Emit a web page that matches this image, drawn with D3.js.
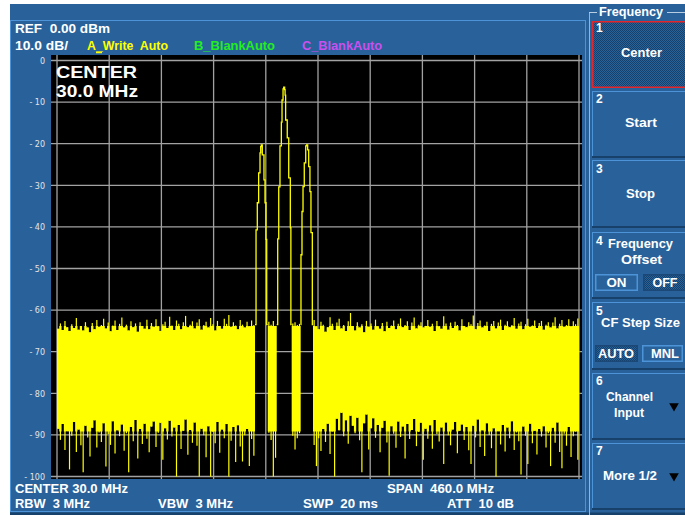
<!DOCTYPE html>
<html><head><meta charset="utf-8">
<script src="https://cdn.jsdelivr.net/npm/d3@7"></script>
<style>
html,body{margin:0;padding:0;background:#fff;}
svg{display:block;}
text{font-family:"Liberation Sans",Arial,sans-serif;font-weight:bold;white-space:pre;}
</style></head><body>
<svg id="c" width="685" height="515"></svg>
<script>
// ---------- data ----------
const freqDomain = [-200, 260];            // MHz (CENTER 30, SPAN 460)
const freqTicks = [-200,-154,-108,-62,-16,30,76,122,168,214,260];
const dbDomain = [0, -100];
const dbTicks = [0,-10,-20,-30,-40,-50,-60,-70,-80,-90,-100];
const dbTickLabels = ["0","- 10","- 20","- 30","- 40","- 50","- 60","- 70","- 80","- 90","- 100"];

// noise floor envelope (max / min per bin, dBm)
const noiseARange = [-200, -25.5];
const noiseATop = [-64.5,-63.2,-64.8,-62.6,-64.1,-65.0,-63.4,-64.3,-61.9,-64.7,
 -63.8,-64.9,-62.9,-64.2,-65.3,-63.1,-64.6,-62.4,-64.0,-63.6,
 -62.1,-64.4,-63.0,-65.1,-63.7,-62.5,-64.8,-63.3,-61.8,-64.2,
 -63.5,-64.9,-62.7,-64.1,-63.2,-65.2,-62.9,-63.8,-64.5,-62.3,
 -64.6,-63.1,-64.0,-62.2,-63.9,-65.0,-63.4,-62.8,-64.3,-61.6,
 -63.7,-64.8,-62.5,-63.3,-64.6,-62.9,-61.4,-64.1,-63.5,-62.7,
 -64.4,-63.0,-62.2,-64.7,-63.6,-62.8,-64.2,-61.9,-63.4,-64.9,
 -62.6,-63.8,-64.5,-62.1,-63.3,-61.2,-64.0,-62.9,-63.7,-64.6,
 -62.4,-63.5,-64.2,-62.8,-63.9,-62.5,-63.6];
const noiseABot = [-88.5,-91.2,-87.4,-93.6,-89.1,-98.3,-90.2,-86.9,-94.1,-88.7,
 -92.5,-99.0,-87.8,-90.6,-95.2,-88.3,-86.5,-93.0,-89.4,-91.7,
 -87.2,-97.6,-89.8,-92.4,-86.7,-94.5,-88.9,-90.3,-87.5,-93.8,
 -89.6,-99.0,-88.1,-91.5,-86.4,-95.7,-88.6,-92.2,-87.3,-90.9,
 -94.2,-88.0,-86.8,-92.9,-89.5,-87.1,-96.0,-88.4,-91.1,-86.6,
 -90.4,-88.2,-100,-87.6,-93.4,-89.0,-86.3,-94.8,-88.8,-91.9,
 -87.0,-92.6,-100,-88.5,-90.1,-95.4,-87.9,-100,-89.3,-92.0,
 -86.9,-94.3,-88.7,-90.8,-87.4,-100,-91.4,-88.1,-96.5,-87.7,
 -92.8,-96.4,-90.1,-88.6,-97.5,-91.0,-95.0];

const noiseBRange = [-14.3, -6.4];
const noiseBTop = [-62.8,-63.5,-62.6,-63.8];
const noiseBBot = [-89.5,-91.2,-100,-95.5];

const noiseCRange = [6.8, 14.7];
const noiseCTop = [-63.2,-62.9,-63.6,-63.3];
const noiseCBot = [-90.2,-93.5,-90.8,-89.6];

const noiseDRange = [25.6, 260];
const noiseDTop = [-62.4,-63.9,-64.6,-62.8,-63.5,-65.2,-64.1,-61.7,-63.3,-64.8,
 -63.0,-62.1,-64.4,-63.6,-65.0,-62.7,-60.7,-63.8,-64.9,-62.9,
 -64.2,-63.4,-65.3,-62.6,-64.0,-63.2,-64.7,-62.3,-63.9,-64.5,
 -63.1,-65.1,-62.8,-64.3,-63.7,-62.5,-64.6,-63.3,-62.0,-64.1,
 -63.6,-62.7,-64.8,-63.0,-61.8,-64.4,-63.5,-62.9,-64.2,-63.8,
 -62.4,-64.0,-63.3,-65.0,-62.6,-63.9,-64.5,-61.5,-63.2,-64.7,
 -63.0,-64.3,-62.8,-63.6,-64.9,-62.2,-63.8,-64.1,-62.9,-63.4,
 -61.3,-64.6,-63.1,-62.5,-64.2,-63.7,-62.8,-65.0,-63.3,-62.6,
 -64.4,-63.0,-62.3,-64.8,-63.5,-62.7,-64.1,-63.6,-61.9,-64.5,
 -63.2,-62.8,-64.6,-63.4,-62.1,-64.0,-63.7,-62.5,-64.3,-63.1,
 -62.6,-64.7,-63.5,-62.9,-64.2,-63.0,-61.7,-64.4,-63.3,-62.4,
 -64.0,-63.6,-62.2,-63.9,-62.7,-63.4,-62.0];
const noiseDBot = [-92.4,-97.5,-90.8,-93.9,-88.6,-91.7,-87.3,-94.6,-89.2,-100,
 -86.1,-88.9,-84.7,-90.3,-86.5,-92.1,-85.4,-87.8,-89.6,-85.9,
 -91.3,-99.0,-87.2,-85.1,-93.5,-88.4,-86.0,-90.7,-87.6,-94.2,
 -88.3,-86.6,-91.8,-99.8,-87.9,-89.7,-93.1,-86.8,-90.5,-88.0,
 -95.7,-87.4,-91.0,-88.8,-86.2,-92.7,-89.3,-87.1,-96.0,-88.5,
 -90.9,-87.7,-93.3,-86.4,-89.8,-91.6,-88.2,-97.0,-87.0,-90.1,
 -92.5,-88.7,-86.9,-94.4,-89.0,-87.5,-91.2,-88.1,-93.7,-97.0,
 -87.8,-90.6,-86.3,-92.9,-88.9,-95.1,-87.2,-90.0,-93.2,-88.4,
 -100,-89.1,-92.3,-87.6,-94.0,-88.2,-90.8,-86.7,-93.6,-89.4,
 -91.5,-99.5,-88.0,-90.2,-97.0,-87.3,-92.0,-89.0,-94.7,-88.6,
 -90.4,-87.9,-93.0,-89.6,-97.5,-88.3,-91.9,-87.0,-94.1,-98.0,
 -89.7,-92.6,-88.1,-95.3,-90.3,-89.2,-96.0];

// signal peaks [MHz, dBm]
const peakLeft = [[-25.5,-63.5],[-24.6,-40.7],[-23.5,-34.2],[-22.3,-27.0],[-21.1,-22.2],[-20.5,-20.7],
 [-20.0,-20.3],[-19.1,-22.7],[-17.6,-28.7],[-16.7,-34.2],[-15.8,-43.0],[-15.2,-63.5],[-14.3,-63.5]];
const peakCenter = [[-6.4,-63.5],[-5.5,-42.9],[-4.6,-30.4],[-3.5,-20.5],[-2.3,-14.8],[-1.7,-9.5],[-0.8,-6.8],
 [-0.2,-6.4],[0.6,-7.0],[1.0,-8.3],[1.5,-14.3],[2.9,-18.6],[4.2,-28.2],[5.6,-40.2],[6.1,-63.5],[6.8,-63.5]];
const peakRight = [[14.7,-63.5],[15.0,-46.7],[15.9,-36.3],[16.8,-30.3],[17.9,-24.6],[19.2,-20.5],[20.0,-20.3],
 [20.9,-21.5],[21.8,-25.5],[22.9,-31.5],[23.8,-41.4],[25.0,-63.5],[25.6,-63.5]];

// ---------- drawing ----------
const svg = d3.select("#c");
const BLUE = "#29629a", LIGHT = "#4d93d8", DARK = "#17406b", YEL = "#ffff00";

const defs = svg.append("defs");
const pat = defs.append("pattern").attr("id","stip").attr("width",2).attr("height",2).attr("patternUnits","userSpaceOnUse");
pat.append("rect").attr("width",2).attr("height",2).attr("fill","#2a6398");
pat.append("rect").attr("width",1).attr("height",1).attr("fill","#153f6c");
pat.append("rect").attr("x",1).attr("y",1).attr("width",1).attr("height",1).attr("fill","#153f6c");

svg.append("rect").attr("x",10).attr("y",4).attr("width",675).attr("height",511).attr("fill",BLUE);
svg.append("rect").attr("x",10).attr("y",512.5).attr("width",675).attr("height",2.5).attr("fill",DARK);
svg.append("rect").attr("x",10.5).attr("y",20.5).attr("width",575).attr("height",491).attr("fill","none").attr("stroke",LIGHT);

function txt(x, yy, s, opt={}) {
  const t = svg.append("text").attr("x",x).attr("y",yy).attr("xml:space","preserve").text(s)
    .attr("fill", opt.color || "#fff").style("font-size",(opt.size||12)+"px")
    .attr("text-anchor", opt.anchor || "start");
  if (opt.len) t.attr("textLength",opt.len).attr("lengthAdjust","spacingAndGlyphs");
  return t;
}

txt(15,33,"REF  0.00 dBm",{len:95});
txt(15,49.5,"10.0 dB/",{len:53});
txt(87,49.5,"A_Write  Auto",{len:81,color:"#ffff00"});
txt(194,49.5,"B_BlankAuto",{len:81,color:"#22ee22"});
txt(302,49.5,"C_BlankAuto",{len:80,color:"#c850ee"});

// plot
const x = d3.scaleLinear().domain(freqDomain).range([57,579]);
const y = d3.scaleLinear().domain(dbDomain).range([60.5,476.5]);
svg.append("rect").attr("x",51).attr("y",55).attr("width",531).attr("height",424).attr("fill","#000");
svg.append("line").attr("x1",96).attr("x2",102).attr("y1",52.5).attr("y2",52.5).attr("stroke",YEL).attr("stroke-width",1.5);

const grid = svg.append("g").attr("stroke","#a2a2a2").attr("stroke-width",1.3);
grid.selectAll(".v").data(freqTicks).join("line").attr("x1",d=>x(d)).attr("x2",d=>x(d)).attr("y1",55).attr("y2",479);
grid.selectAll(".h").data(dbTicks).join("line").attr("y1",d=>y(d)).attr("y2",d=>y(d)).attr("x1",51).attr("x2",582);

const ax = svg.append("g").attr("transform","translate(47,0)")
  .call(d3.axisLeft(y).tickValues(dbTicks).tickFormat((d,i)=>dbTickLabels[i]).tickSize(0).tickPadding(2));
ax.select(".domain").remove();
ax.selectAll("text").attr("fill","#e4e4e4").style("font-size","8px").style("font-weight","normal")
  .style("font-family","'DejaVu Sans',sans-serif").attr("dy","0.35em");

const tr = svg.append("g");
function drawNoise(range, tops, bots) {
  const w = (range[1]-range[0]) / tops.length;
  const bins = tops.map((t,i) => ({f: range[0] + i*w, t: t, b: bots[i]}));
  const pts = bins.concat([{f: range[1], t: tops[tops.length-1], b: bots[bots.length-1]}]);
  const area = d3.area().x(d=>x(d.f)).y0(d=>y(Math.max(d.b,-89.2))).y1(d=>y(Math.min(d.t,-63.8)))
    .curve(d3.curveStepAfter);
  tr.append("path").attr("d",area(pts)).attr("fill",YEL);
  tr.append("g").selectAll("line").data(bins).join("line")
    .attr("x1",d=>x(d.f + w/2)).attr("x2",d=>x(d.f + w/2))
    .attr("y1",d=>y(d.t)).attr("y2",d=>y(d.b))
    .attr("stroke",YEL).attr("stroke-width",1.2);
}
drawNoise(noiseARange, noiseATop, noiseABot);
drawNoise(noiseBRange, noiseBTop, noiseBBot);
drawNoise(noiseCRange, noiseCTop, noiseCBot);
drawNoise(noiseDRange, noiseDTop, noiseDBot);

const line = d3.line().x(d=>x(d[0])).y(d=>y(d[1])).curve(d3.curveStepAfter);
[peakLeft, peakCenter, peakRight].forEach(p => {
  tr.append("path").attr("d",line(p)).attr("fill","none").attr("stroke",YEL).attr("stroke-width",1.3);
});

txt(56,78,"CENTER",{size:16,len:81});
txt(56,96.5,"30.0 MHz",{size:16,len:82});

// bottom annotations
txt(15,493,"CENTER 30.0 MHz",{len:113});
txt(387,493,"SPAN  460.0 MHz",{len:107});
txt(15,508,"RBW  3 MHz",{len:75});
txt(158,508,"VBW  3 MHz",{len:75});
txt(303,508,"SWP  20 ms",{len:75});
txt(447,508,"ATT  10 dB",{len:67});

// right softkey panel
svg.append("line").attr("x1",589.5).attr("x2",589.5).attr("y1",12).attr("y2",515).attr("stroke","#8fb6dc");
svg.append("line").attr("x1",589).attr("x2",597).attr("y1",12.5).attr("y2",12.5).attr("stroke","#b8cde2");
svg.append("line").attr("x1",667).attr("x2",685).attr("y1",12.5).attr("y2",12.5).attr("stroke","#b8cde2");
txt(599,15.5,"Frequency",{len:64});

const buttons = [[21,88],[91,156],[160,226],[232,297],[302,368],[373,438],[443,508]];
buttons.forEach((b,i) => {
  const g = svg.append("g");
  g.append("rect").attr("x",592).attr("y",b[0]).attr("width",93).attr("height",b[1]-b[0])
    .attr("fill", i===0 ? "url(#stip)" : BLUE);
  if (i===0) {
    g.append("rect").attr("x",592.75).attr("y",b[0]+0.75).attr("width",93).attr("height",b[1]-b[0]-1.5)
      .attr("fill","none").attr("stroke","#e3262b").attr("stroke-width",1.5);
  } else {
    g.append("line").attr("x1",592).attr("x2",685).attr("y1",b[0]+0.5).attr("y2",b[0]+0.5).attr("stroke",LIGHT);
    g.append("line").attr("x1",592.5).attr("x2",592.5).attr("y1",b[0]).attr("y2",b[1]).attr("stroke",LIGHT);
    g.append("line").attr("x1",592).attr("x2",685).attr("y1",b[1]+1).attr("y2",b[1]+1).attr("stroke",DARK).attr("stroke-width",2);
  }
});
const digitsY = [32,103,173,245,315,385,455];
digitsY.forEach((yy,i)=>txt(596,yy,String(i+1),{size:12}));

txt(641.5,57,"Center",{anchor:"middle",len:41});
txt(641,127,"Start",{anchor:"middle",len:32});
txt(640.5,198,"Stop",{anchor:"middle",len:29});
txt(640.5,248,"Frequency",{anchor:"middle",len:65});
txt(641.5,264,"Offset",{anchor:"middle",len:41});
txt(640.5,327,"CF Step Size",{anchor:"middle",len:79});
txt(629.5,401,"Channel",{anchor:"middle",len:47});
txt(629,417,"Input",{anchor:"middle",len:30});
txt(630,480,"More 1/2",{anchor:"middle",len:54});

function smallBtn(x0,x1,y0,y1,sel,label,cx,len){
  svg.append("rect").attr("x",x0+0.75).attr("y",y0+0.75).attr("width",x1-x0-1.5).attr("height",y1-y0-1.5)
    .attr("fill", sel ? "url(#stip)" : BLUE).attr("stroke", sel ? "#1b4876" : LIGHT).attr("stroke-width",1.5);
  txt(cx,y1-4.5,label,{anchor:"middle",len:len});
}
smallBtn(595,638,274,291,false,"ON",616.5,20);
smallBtn(643,686,274,291,true,"OFF",665,25);
smallBtn(595,638,345,362,true,"AUTO",616,36);
smallBtn(642,683,345,362,false,"MNL",665,28);

const tri = d3.symbol().type(d3.symbolTriangle).size(40);
[[674,406],[674,476]].forEach(p=>{
  svg.append("path").attr("d",tri()).attr("transform",`translate(${p[0]},${p[1]}) rotate(180)`).attr("fill","#000");
});
</script>
</body></html>
